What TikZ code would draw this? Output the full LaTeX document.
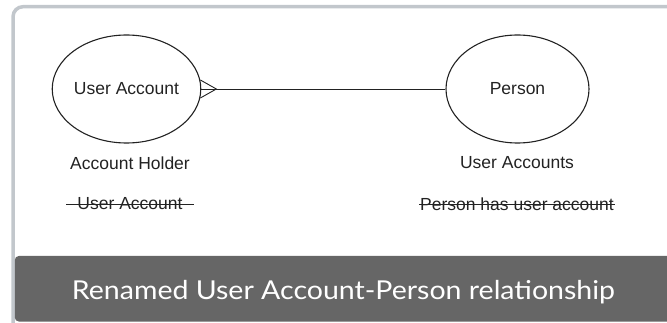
\documentclass[tikz,border=0pt]{standalone}
\usepackage{fontspec}
\setmainfont{Liberation Sans}
\newfontfamily\captionfont{Lato}
\usetikzlibrary{shapes.geometric, positioning}
\definecolor{framegray}{HTML}{C2C7CC}
\definecolor{bandgray}{HTML}{666666}
\definecolor{inkgray}{HTML}{222222}

\begin{document}
\begin{tikzpicture}[x=1pt, y=-1pt,
    entity/.style={ellipse, draw=inkgray, line width=1.1pt, minimum width=143pt, minimum height=108pt, inner sep=0pt, font=\fontsize{17.5}{20}\selectfont, text=inkgray},
    rolename/.style={inner sep=0pt, font=\fontsize{17.5}{20}\selectfont, text=inkgray},
    oldname/.style={inner xsep=11pt, inner ysep=0pt, font=\fontsize{17.5}{20}\selectfont, text=inkgray},
    link/.style={draw=inkgray, line width=0.9pt}]
    \useasboundingbox (0,0) rectangle (667,323);
    \begin{scope}
        \clip (0,0) rectangle (667,323);
        % Frame
        \draw[framegray, line width=3.5pt, rounded corners=10pt] (13,335) -- (13,6.7) -- (690,6.7);
        % Caption band
        \fill[bandgray, rounded corners=4pt] (14.8,256) rectangle (690,321.5);
    \end{scope}
    \node[text=white, anchor=base, inner sep=0pt, font=\captionfont\fontsize{26}{30}\selectfont] (caption) at (343.5,300) {\resizebox{543pt}{\height}{Renamed User Account-Person relationship}};
    % Entities
    \node[entity] (account) at (126.5,89) {User Account};
    \node[entity] (person) at (517.5,89) {Person};
    % Relationship with crow's foot at the account side
    \coordinate[right=15pt of account.east] (fork);
    \draw[link] (account.east) -- (person.west);
    \draw[link] (account.7) -- (fork) -- (account.-7);
    % Role names
    \node[rolename] (accountRole) at (130,163) {Account Holder};
    \node[rolename] (personRole) at (517,163) {User Accounts};
    % Old names, struck out
    \node[oldname] (accountOld) at (130,204) {User Account};
    \node[oldname, inner xsep=1pt] (personOld) at (517,204) {Person has user account};
    \draw[link, line width=0.8pt] (accountOld.west) -- (accountOld.east);
    \draw[link, line width=0.8pt] (personOld.west) -- (personOld.east);
\end{tikzpicture}
\end{document}
